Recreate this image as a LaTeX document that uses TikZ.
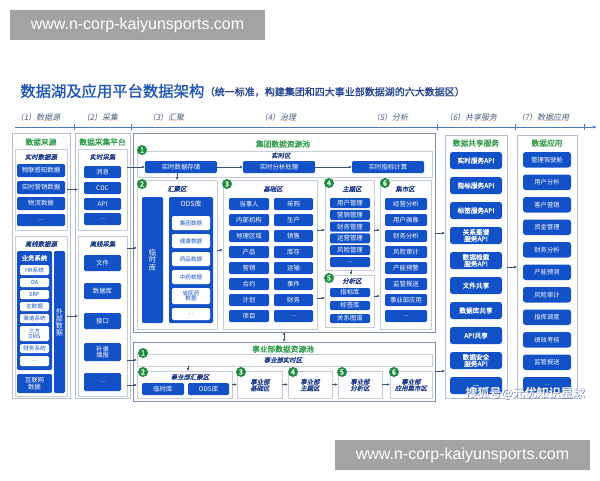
\documentclass[tikz,border=0pt]{standalone}
\usepackage{fontspec}
\setmainfont{Noto Sans CJK SC}[AutoFakeBold=1.2,AutoFakeSlant=0.2]
\newfontfamily\wmfont{Liberation Sans}
\usetikzlibrary{arrows.meta}
\newcommand{\fs}[1]{\fontsize{#1}{#1}\selectfont}
\newcommand{\dd}{...}
\newcommand{\bx}[7]{\node[#1, minimum width={((#5)-(#3))*0.75pt}, minimum height={((#6)-(#4))*0.75pt}] (#2) at ({((#3)+(#5))/2},{((#4)+(#6))/2}) {#7};}
\definecolor{barblue}{HTML}{1351C9}
\definecolor{numgreen}{HTML}{1E8C3E}
\definecolor{titlegreen}{HTML}{2E9A48}
\definecolor{titleblue}{HTML}{1E56B8}
\definecolor{subblue}{HTML}{1F3F8F}
\definecolor{labblue}{HTML}{1E3A8A}
\definecolor{boxgray}{HTML}{B5BFCC}
\definecolor{grpgray}{HTML}{8090A8}
\definecolor{arrgray}{HTML}{3F5275}
\definecolor{tlgray}{HTML}{4A5A7A}
\definecolor{wmgray}{HTML}{A3A3A3}
\begin{document}
\begin{tikzpicture}[x=0.75pt,y=-0.75pt,
  bar/.style={fill=barblue, rounded corners=1pt, text=white, font=\fs{4.8}, inner sep=0, outer sep=0, align=center},
  wbar/.style={fill=white, rounded corners=1pt, text=barblue, font=\fs{4.2}, inner sep=0, outer sep=0, align=center},
  colbox/.style={draw=boxgray, line width=0.6pt, fill=white, inner sep=0, outer sep=0},
  inbox/.style={draw=boxgray!80, line width=0.45pt, fill=white, inner sep=0, outer sep=0, align=center},
  grpbox/.style={draw=grpgray, line width=0.75pt, fill=white, inner sep=0, outer sep=0},
  coltitle/.style={text=titlegreen, font=\fs{5.8}\bfseries, inner sep=0},
  itlab/.style={text=labblue, font=\fs{4.8}\bfseries\itshape, inner sep=0, align=center},
  pantitle/.style={text=white, font=\fs{4.8}\bfseries, inner sep=0},
  num/.style={circle, fill=numgreen, text=white, font=\fs{5.5}\bfseries, inner sep=0, minimum size=7.5pt},
  arr/.style={draw=arrgray, line width=0.4pt, -{Latex[length=2.2pt,width=2pt]}},
  svc/.style={fill=barblue, rounded corners=2pt, text=white, font=\fs{5}\bfseries, inner sep=0, outer sep=0, align=center},
  appb/.style={fill=barblue, rounded corners=2pt, text=white, font=\fs{4.7}, inner sep=0, outer sep=0, align=center},
  tllab/.style={text=tlgray, font=\fs{6}\itshape, inner sep=0}]
\fill[white] (0,0) rectangle (600,480);
\useasboundingbox (0,0) rectangle (600,480);

% watermarks
\bx{fill=wmgray, inner sep=0, outer sep=0, text=white, font=\wmfont\fs{12}}{wmtop}{10}{10}{265}{40}{www.n-corp-kaiyunsports.com}
\bx{fill=wmgray, inner sep=0, outer sep=0, text=white, font=\wmfont\fs{12}}{wmbot}{335}{440}{590}{470}{www.n-corp-kaiyunsports.com}

% title
\node[anchor=west, text=titleblue, font=\fs{11.5}\bfseries, inner sep=0] (title) at (20,91) {数据湖及应用平台数据架构};
\node[anchor=west, text=subblue, font=\fs{7.5}\bfseries, inner sep=0] (subtitle) at ([yshift=-0.6pt]title.east) {（统一标准，构建集团和四大事业部数据湖的六大数据区）};

% timeline
\node[tllab] (t1) at (38,117) {（1）数据源};
\node[tllab] (t2) at (100,117) {（2）采集};
\node[tllab] (t3) at (166,117) {（3）汇聚};
\node[tllab] (t4) at (278,117) {（4）治理};
\node[tllab] (t5) at (390,117) {（5）分析};
\node[tllab] (t6) at (471,117) {（6）共享服务};
\node[tllab] (t7) at (543,117) {（7）数据应用};
\coordinate (tlA) at (15,127);
\coordinate (tlB) at (597,127);
\draw[draw=titleblue!80, line width=0.6pt, -{Latex[length=3pt,width=2.5pt]}] (tlA) -- (tlB);
\foreach \tx in {74,131,437,515,584} \draw[draw=titleblue!80, line width=0.6pt] (\tx,124) -- (\tx,130);

% ===== column 1: data sources
\bx{colbox}{c1}{12}{133}{70}{398}{}
\node[coltitle] (c1t) at (41,142) {数据来源};
\bx{inbox}{c1a}{15}{149}{67}{230}{}
\node[itlab] (c1al) at (41,157) {实时数据源};
\bx{bar}{c1a1}{17}{164}{65}{177}{物联感知数据}
\bx{bar}{c1a2}{17}{181}{65}{194}{实时营销数据}
\bx{bar}{c1a3}{17}{197}{65}{210}{物流数据}
\bx{bar}{c1a4}{17}{214}{65}{226}{\dd}
\bx{inbox}{c1b}{15}{236}{67}{396}{}
\node[itlab] (c1bl) at (41,244) {离线数据源};
\bx{bar}{ywxt}{17}{251}{52}{370}{}
\node[pantitle] (ywxtt) at (34.5,258) {业务系统};
\bx{wbar}{yw1}{20}{265}{49}{275}{HR系统}
\bx{wbar}{yw2}{20}{278}{49}{287}{OA}
\bx{wbar}{yw3}{20}{290}{49}{299}{ERP}
\bx{wbar}{yw4}{20}{302}{49}{311}{主数据}
\bx{wbar}{yw5}{20}{314}{49}{323}{渠道系统}
\bx{wbar}{yw6}{20}{326}{49}{341}{三方\\OMS}
\bx{wbar}{yw7}{20}{344}{49}{353}{财务系统}
\bx{wbar}{yw8}{20}{356}{49}{366}{\dd}
\bx{bar}{hlw}{17}{374}{52}{393}{互联网\\数据}
\bx{bar, font=\fs{5.3}}{wbsj}{54}{251}{65}{393}{外\\部\\数\\据}

% ===== column 2: collection
\bx{colbox}{c2}{75}{133}{130}{398}{}
\node[coltitle] (c2t) at (102.5,142) {数据采集平台};
\bx{inbox}{c2a}{78}{149}{127}{230}{}
\node[itlab] (c2al) at (102.5,157) {实时采集};
\bx{bar}{c2a1}{84}{166}{121}{178}{消息}
\bx{bar}{c2a2}{84}{182}{121}{194}{CDC}
\bx{bar}{c2a3}{84}{198}{121}{210}{API}
\bx{bar}{c2a4}{84}{213}{121}{225}{\dd}
\bx{inbox}{c2b}{78}{236}{127}{396}{}
\node[itlab] (c2bl) at (102.5,244) {离线采集};
\bx{bar}{c2b1}{84}{255}{121}{271}{文件}
\bx{bar}{c2b2}{84}{283}{121}{299}{数据库}
\bx{bar}{c2b3}{84}{313}{121}{329}{接口}
\bx{bar}{c2b4}{84}{343}{121}{361}{补录\\填报}
\bx{bar}{c2b5}{84}{373}{121}{391}{\dd}

% ===== group 1
\bx{grpbox}{g1}{133}{133}{435}{332}{}
\node[coltitle] (g1t) at (283,144) {集团数据资源池};
\bx{inbox}{ssq}{137}{151}{432}{177}{}
\node[itlab] (ssql) at (281,155.5) {实时区};
\bx{bar}{s1}{145}{161}{217}{173}{实时数据存储}
\bx{bar}{s2}{243}{161}{315}{173}{实时分析处理}
\bx{bar}{s3}{352}{161}{424}{173}{实时指标计算}

\bx{inbox}{hjq}{137}{180}{217}{329}{}
\node[itlab] (hjql) at (177,189) {汇聚区};
\bx{bar, font=\fs{5.5}}{lsk}{142}{197}{163}{323}{临\\时\\库}
\bx{bar}{ods}{169}{197}{213}{323}{}
\node[pantitle, font=\fs{5.2}] (odst) at (191,204) {ODS库};
\bx{wbar}{od1}{172}{216}{210}{230}{集团数据}
\bx{wbar}{od2}{172}{234}{210}{248}{健康数据}
\bx{wbar}{od3}{172}{252}{210}{266}{药品数据}
\bx{wbar}{od4}{172}{270}{210}{284}{中药数据}
\bx{wbar}{od5}{172}{288}{210}{304}{省医药\\数据}
\bx{wbar}{od6}{172}{308}{210}{320}{\dd}

\bx{inbox}{jcq}{223}{180}{317}{329}{}
\node[itlab] (jcql) at (273,189) {基础区};
\foreach \i/\a/\b in {0/当事人/采购,1/内部机构/生产,2/地理区域/销售,3/产品/库存,4/营销/运输,5/合约/事件,6/计划/财务,7/项目/\dd}{
  \bx{bar}{jca\i}{229}{198+16*\i}{269}{210+16*\i}{\a}
  \bx{bar}{jcb\i}{274}{198+16*\i}{313}{210+16*\i}{\b}
}

\bx{inbox}{ztq}{325}{180}{374}{270}{}
\node[itlab] (ztql) at (352,189) {主题区};
\foreach \i/\a in {0/用户管理,1/营销管理,2/财务管理,3/运营管理,4/风险管理,5/\dd}{
  \bx{bar}{zt\i}{330}{198+11.8*\i}{370}{208+11.8*\i}{\a}
}
\bx{inbox}{fxq}{325}{275}{374}{327}{}
\node[itlab] (fxql) at (352,281) {分析区};
\bx{bar}{fx0}{330}{288}{370}{297}{指标库}
\bx{bar}{fx1}{330}{301}{370}{310}{标签库}
\bx{bar}{fx2}{330}{314}{370}{323}{关系图谱}

\bx{inbox}{jsq}{380}{180}{431}{329}{}
\node[itlab] (jsql) at (405,189) {集市区};
\foreach \i/\a in {0/经营分析,1/用户画像,2/财务分析,3/风险审计,4/产能预警,5/监管报送,6/事业部应用,7/\dd}{
  \bx{bar}{js\i}{385}{198+16*\i}{427}{210+16*\i}{\a}
}

\node[num] (g1n1) at (142,150) {1};
\node[num] (g1n2) at (142,184) {2};
\node[num] (g1n3) at (227,184) {3};
\node[num] (g1n4) at (329,183) {4};
\node[num] (g1n5) at (329,278) {5};
\node[num] (g1n6) at (385,183) {6};

% ===== group 2
\bx{grpbox}{g2}{133}{342}{435}{401}{}
\node[coltitle] (g2t) at (283,349) {事业部数据资源池};
\bx{inbox}{bssq}{137}{354}{432}{366}{}
\node[itlab] (bssql) at (283,360) {事业部实时区};
\bx{inbox}{bhjq}{137}{371}{232}{398}{}
\node[itlab] (bhjql) at (190,377) {事业部汇聚区};
\bx{bar}{blsk}{142}{383}{184}{395}{临时库}
\bx{bar}{bods}{188}{383}{229}{395}{ODS库}
\bx{inbox}{b3}{237}{371}{282}{398}{}
\node[itlab] (b3l) at (260,385) {事业部\\基础区};
\bx{inbox}{b4}{288}{371}{332}{398}{}
\node[itlab] (b4l) at (310,385) {事业部\\主题区};
\bx{inbox}{b5}{338}{371}{382}{398}{}
\node[itlab] (b5l) at (360,385) {事业部\\分析区};
\bx{inbox}{b6}{390}{371}{432}{398}{}
\node[itlab] (b6l) at (411,385) {事业部\\应用集市区};
\node[num] (g2n1) at (143,353) {1};
\node[num] (g2n2) at (143,372) {2};
\node[num] (g2n3) at (241,372) {3};
\node[num] (g2n4) at (293,372) {4};
\node[num] (g2n5) at (342,372) {5};
\node[num] (g2n6) at (394,372) {6};

% ===== column 6: sharing services
\bx{colbox}{c6}{445}{135}{507}{398}{}
\node[coltitle] (c6t) at (476,143) {数据共享服务};
\foreach \i/\a in {0/实时服务API,1/指标服务API,2/标签服务API,3/{关系图谱\\服务API},4/{数据检索\\服务API},5/文件共享,6/数据库共享,7/API共享,8/{数据安全\\服务API},9/\dd}{
  \bx{svc}{sv\i}{450}{152+25*\i}{502}{169+25*\i}{\a}
}

% ===== column 7: applications
\bx{colbox}{c7}{517}{135}{577}{398}{}
\node[coltitle] (c7t) at (547,143) {数据应用};
\foreach \i/\a in {0/管理驾驶舱,1/用户分析,2/客户营销,3/资金管理,4/财务分析,5/产能预测,6/风险审计,7/指挥调度,8/绩效考核,9/监管报送,10/\dd}{
  \bx{appb}{ap\i}{523}{152+22.5*\i}{571}{167.5+22.5*\i}{\a}
}

% ===== connectors
\draw[arr] (c1a.east) -- (c2a.west);
\draw[arr] (c1b.east) -- (c2b.west);
\draw[arr] (c2a.east |- s1.west) -- (s1.west);
\draw[arr] (c2b.east |- 0,248) -- (hjq.west |- 0,248);
\draw[arr] (c2b.east |- bssq.west) -- (bssq.west);
\draw[arr] (c2b.east |- 0,385) -- (bhjq.west |- 0,385);
\draw[arr] (s1) -- (s2);
\draw[arr] (s2) -- (s3);
\draw[arr] (s1.south -| 177,0) -- (hjq.north -| 177,0);
\draw[arr] (hjq.east |- 0,250) -- (jcq.west |- 0,250);
\draw[arr] (jcq.east |- 0,230) -- (ztq.west |- 0,230);
\draw[arr] (jcq.east |- 0,298) -- (fxq.west |- 0,298);
\draw[arr] (ztq.south -| 351,0) -- (fxq.north -| 351,0);
\draw[arr] (ztq.east |- 0,230) -- (jsq.west |- 0,230);
\draw[arr] (fxq.east |- 0,296) -- (jsq.west |- 0,296);
\draw[arr, {Latex[length=2.2pt,width=2pt]}-{Latex[length=2.2pt,width=2pt]}] (g1.south) -- (g2.north);
\draw[arr] (bssq.south -| 188,0) -- (bhjq.north -| 188,0);
\draw[arr] (bhjq) -- (b3);
\draw[arr] (b3) -- (b4);
\draw[arr] (b4) -- (b5);
\draw[arr] (b5) -- (b6);
\draw[arr] (g1.east |- 0,233) -- (c6.west |- 0,233);
\draw[arr] (g2.east |- 0,371) -- (c6.west |- 0,371);
\draw[arr] (c6.east |- 0,267) -- (c7.west |- 0,267);

% sohu watermark
\node[text=labblue!70, font=\fs{9}\bfseries, inner sep=0] (sohush) at (525.6,393.6) {搜狐号@元优知识星球};
\node[text=white, font=\fs{9}\bfseries, inner sep=0] (sohu) at (525,393) {搜狐号@元优知识星球};
\end{tikzpicture}
\end{document}
